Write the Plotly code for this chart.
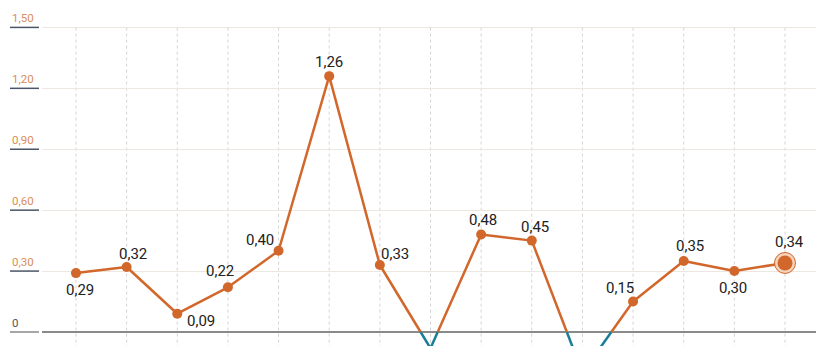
import plotly.graph_objects as go

# Monthly values (comma decimals in labels)
periods = list(range(15))
values = [0.29, 0.32, 0.09, 0.22, 0.40, 1.26, 0.33, -0.08, 0.48, 0.45, -0.20, 0.15, 0.35, 0.30, 0.34]
y_ticks = [0, 0.30, 0.60, 0.90, 1.20, 1.50]
y_tick_text = ["0", "0,30", "0,60", "0,90", "1,20", "1,50"]

# Pixel offsets of each value label from its point (None = no label)
label_offsets = [(4, -17), (6, 13), (24, -7), (-8, 16), (-19, 11), (0, 14), (15, 11), None,
                 (2, 15), (3, 14), None, (-13, 14), (6, 15), (-1, -17), (4, 21)]

ORANGE = "#d2672b"
BLUE = "#1a7e98"
W, H = 816, 346
L_MARGIN = 42


def split_by_sign(xs, ys):
    """Split the polyline into positive and negative parts, adding zero crossings."""
    pos_x, pos_y, neg_x, neg_y = [], [], [], []
    for i in range(len(xs) - 1):
        x0, y0, x1, y1 = xs[i], ys[i], xs[i + 1], ys[i + 1]
        if (y0 >= 0) == (y1 >= 0):
            tx, ty = (pos_x, pos_y) if y0 >= 0 else (neg_x, neg_y)
            tx += [x0, x1, None]
            ty += [y0, y1, None]
        else:
            xc = x0 + (x1 - x0) * (0 - y0) / (y1 - y0)
            a_x, a_y = (pos_x, pos_y) if y0 >= 0 else (neg_x, neg_y)
            b_x, b_y = (pos_x, pos_y) if y1 >= 0 else (neg_x, neg_y)
            a_x += [x0, xc, None]
            a_y += [y0, 0, None]
            b_x += [xc, x1, None]
            b_y += [0, y1, None]
    return pos_x, pos_y, neg_x, neg_y


px_, py_, nx_, ny_ = split_by_sign(periods, values)

fig = go.Figure()
fig.add_trace(go.Scatter(x=nx_, y=ny_, mode="lines",
                         line=dict(color=BLUE, width=2.5), hoverinfo="skip"))
fig.add_trace(go.Scatter(x=px_, y=py_, mode="lines",
                         line=dict(color=ORANGE, width=2.5), hoverinfo="skip"))

pos_idx = [i for i, v in enumerate(values) if v >= 0]
fig.add_trace(go.Scatter(
    x=[periods[i] for i in pos_idx[:-1]],
    y=[values[i] for i in pos_idx[:-1]],
    mode="markers",
    marker=dict(color=ORANGE, size=10),
    cliponaxis=False,
))
# Highlighted latest point
last = pos_idx[-1]
fig.add_trace(go.Scatter(
    x=[periods[last]], y=[values[last]], mode="markers",
    marker=dict(color="#f6d2bb", size=21, line=dict(color=ORANGE, width=1)),
    cliponaxis=False,
))
fig.add_trace(go.Scatter(
    x=[periods[last]], y=[values[last]], mode="markers",
    marker=dict(color=ORANGE, size=15),
    cliponaxis=False,
))

annotations = []
for p, v, off in zip(periods, values, label_offsets):
    if off is None:
        continue
    annotations.append(dict(x=p, y=v, xref="x", yref="y", showarrow=False,
                            text=f"{v:.2f}".replace(".", ","),
                            xshift=off[0], yshift=off[1],
                            xanchor="center", yanchor="middle",
                            font=dict(family="Roboto", size=15, color="#222222")))

shapes = []
# Dotted vertical guides
for p in periods:
    shapes.append(dict(type="line", xref="x", yref="y", x0=p, x1=p, y0=-0.2, y1=y_ticks[-1],
                       line=dict(color="#d4d4d4", width=1, dash="dot"), layer="below"))

plot_w = W - L_MARGIN
lx0 = (10 - L_MARGIN) / plot_w
lx1 = (39 - L_MARGIN) / plot_w
for v, t in zip(y_ticks, y_tick_text):
    col = "#555555" if v == 0 else "#da8d5a"
    ucol = "#8a8a8a" if v == 0 else "#4a5566"
    shapes.append(dict(type="line", xref="paper", yref="y", x0=lx0, x1=lx1, y0=v, y1=v,
                       line=dict(color=ucol, width=1.5)))
    annotations.append(dict(xref="paper", yref="y", x=lx0, y=v, text=t, showarrow=False,
                            xanchor="left", yanchor="bottom", yshift=0,
                            font=dict(family="Roboto", size=11.5, color=col)))

fig.update_layout(
    width=W, height=H,
    margin=dict(l=L_MARGIN, r=0, t=0, b=0),
    paper_bgcolor="white", plot_bgcolor="white",
    showlegend=False,
    shapes=shapes, annotations=annotations,
    xaxis=dict(range=[-0.671, 14.612], showgrid=False, zeroline=False,
               showticklabels=False, ticks="", fixedrange=True),
    yaxis=dict(range=[-0.069, 1.635], tickvals=y_ticks, showticklabels=False,
               showgrid=True, gridcolor="#ece7e0", gridwidth=1,
               zeroline=True, zerolinecolor="#8a8a8a", zerolinewidth=2, ticks=""),
)

fig.write_html("out.html")
